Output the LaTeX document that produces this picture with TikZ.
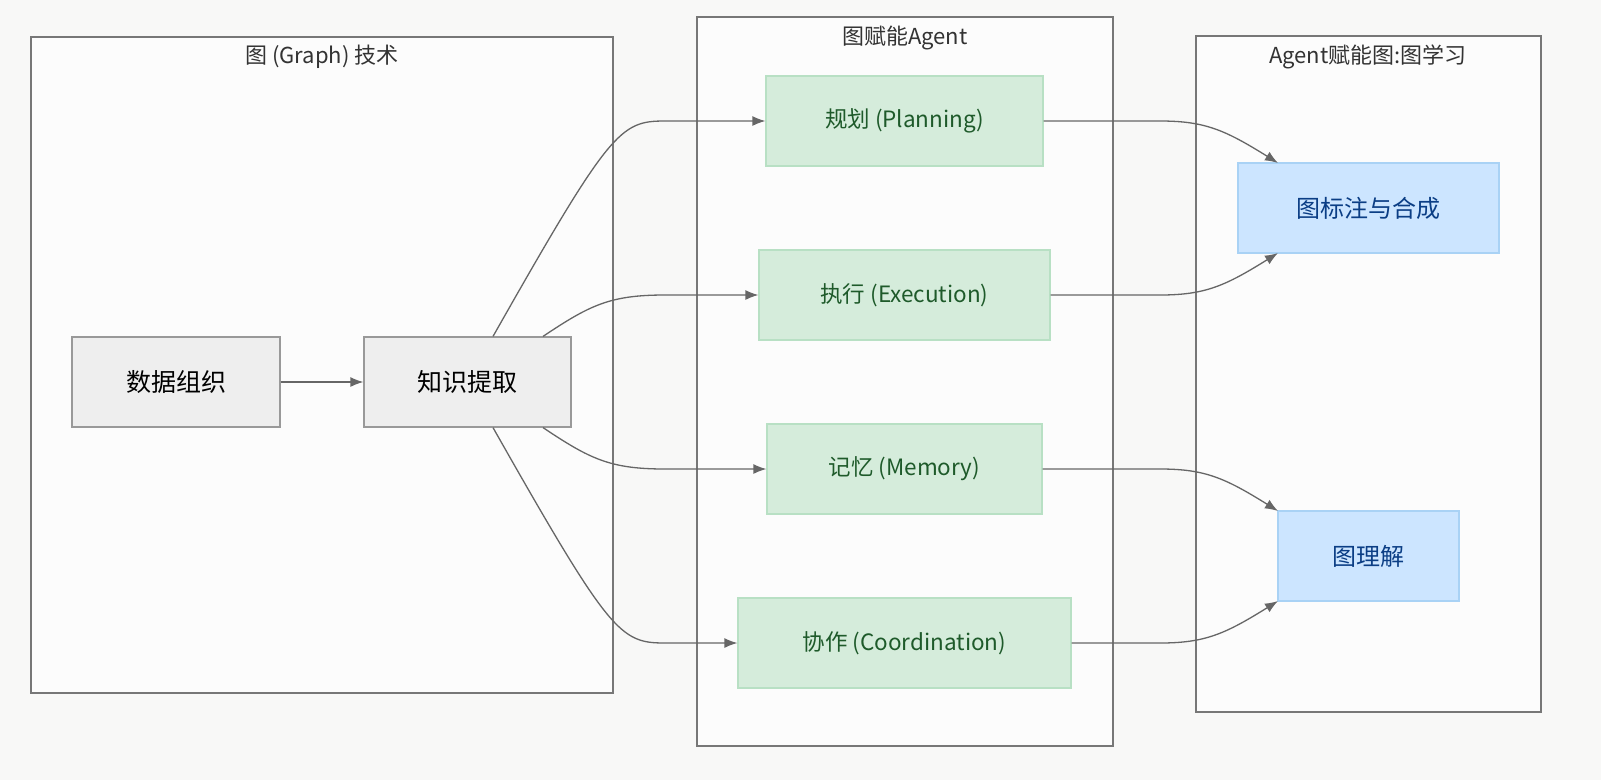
\documentclass[tikz,border=0pt]{standalone}
\usepackage{fontspec}
\setmainfont{Noto Sans CJK SC}
\usetikzlibrary{arrows.meta,calc}
\definecolor{bg}{HTML}{F8F8F7}
\definecolor{clf}{HTML}{FCFCFC}
\definecolor{cls}{HTML}{777777}
\definecolor{gf}{HTML}{EEEEEE}
\definecolor{gs}{HTML}{999999}
\definecolor{grf}{HTML}{D5ECDB}
\definecolor{grs}{HTML}{B8E0C4}
\definecolor{grt}{HTML}{1E5A2A}
\definecolor{bf}{HTML}{CCE5FF}
\definecolor{bs}{HTML}{A9D2F5}
\definecolor{bt}{HTML}{0B3E85}
\definecolor{ln}{HTML}{666666}
\begin{document}
\begin{tikzpicture}[x=1pt,y=-1pt,
  cluster/.style={draw=cls,fill=clf,line width=1.2pt},
  ctitle/.style={font=\fontsize{22}{24}\selectfont,text=black!80},
  gbox/.style={draw=gs,fill=gf,line width=1.2pt,font=\fontsize{25}{28}\selectfont},
  agbox/.style={draw=grs,fill=grf,line width=1.2pt,text=grt,font=\fontsize{22.5}{26}\selectfont},
  bbox/.style={draw=bs,fill=bf,line width=1.2pt,text=bt,font=\fontsize{24}{26}\selectfont},
  conn/.style={draw=ln,line width=1.3pt,-{Latex[length=13pt,width=10pt]}}]
\fill[bg] (0,0) rectangle (1601,780);
\useasboundingbox (0,0) rectangle (1601,780);
\draw[cluster] (31,37) rectangle (613,693);
\node[ctitle] (t1) at (322,57) {图 (Graph) 技术};
\draw[cluster] (697,17) rectangle (1113,746);
\node[ctitle] (t2) at (905,38) {图赋能Agent};
\draw[cluster] (1196,36) rectangle (1541,712);
\node[ctitle] (t3) at (1368,57) {Agent赋能图:图学习};
\node[gbox,minimum width=208,minimum height=90] (dz) at (176,382) {数据组织};
\node[gbox,minimum width=207,minimum height=90] (ki) at (467.5,382) {知识提取};
\node[agbox,minimum width=277,minimum height=90] (pl) at (904.5,121) {规划 (Planning)};
\node[agbox,minimum width=291,minimum height=90] (ex) at (904.5,295) {执行 (Execution)};
\node[agbox,minimum width=275,minimum height=90] (me) at (904.5,469) {记忆 (Memory)};
\node[agbox,minimum width=333,minimum height=90] (co) at (904.5,643) {协作 (Coordination)};
\node[bbox,minimum width=261,minimum height=90] (an) at (1368.5,208) {图标注与合成};
\node[bbox,minimum width=181,minimum height=90] (un) at (1368.5,556) {图理解};
\draw[conn] (dz) -- (ki);
\draw[conn] ([xshift=25.5]ki.north) .. controls (610,130) and (620,121) .. (665,121) -- (pl.west);
\draw[conn] ([xshift=75.5]ki.north) .. controls (590,305) and (610,295) .. (665,295) -- (ex.west);
\draw[conn] ([xshift=75.5]ki.south) .. controls (590,459) and (610,469) .. (665,469) -- (me.west);
\draw[conn] ([xshift=25.5]ki.south) .. controls (610,634) and (620,643) .. (665,643) -- (co.west);
\coordinate (a1) at (1278,163);
\coordinate (a2) at (1278,253);
\coordinate (a3) at (1278,511);
\coordinate (a4) at (1278,601);
\draw[conn] (pl.east) -- (1160,121) .. controls (1205,121) and (1225,130) .. (a1);
\draw[conn] (ex.east) -- (1160,295) .. controls (1205,295) and (1225,286) .. (a2);
\draw[conn] (me.east) -- (1160,469) .. controls (1205,469) and (1225,478) .. (a3);
\draw[conn] (co.east) -- (1160,643) .. controls (1205,643) and (1225,634) .. (a4);
\end{tikzpicture}
\end{document}
